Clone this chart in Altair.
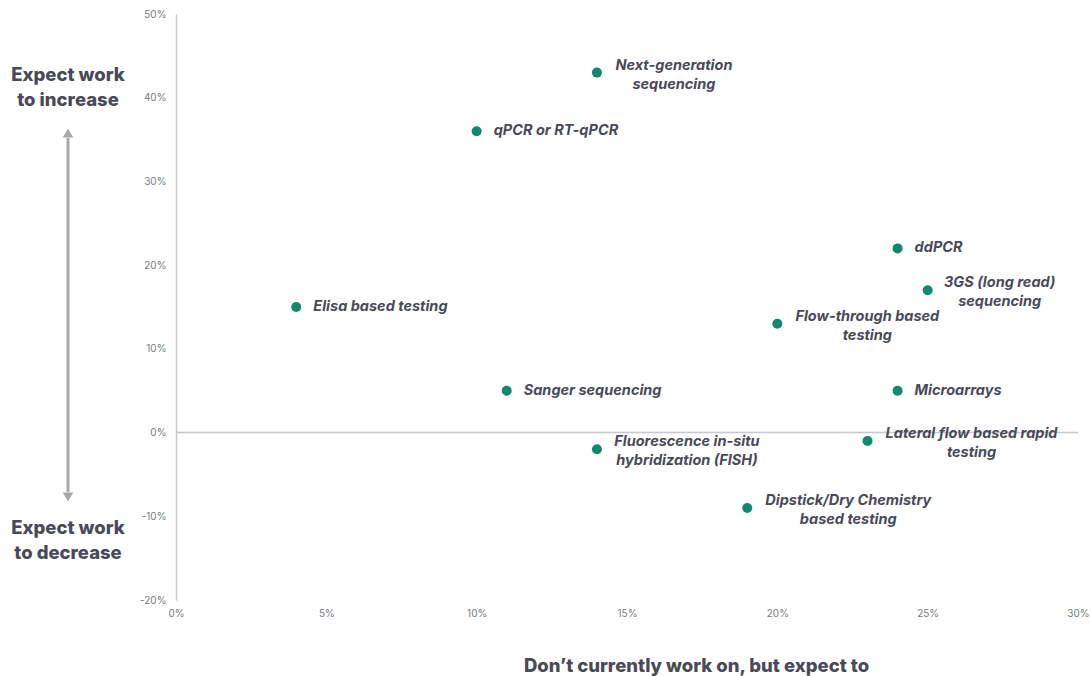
import altair as alt
import pandas as pd

# Survey results: share of respondents who don't work on a method yet but expect to (x)
# versus net expected change in work volume (y), both in percent.
methods = [
    "Next-generation\nsequencing",
    "qPCR or RT-qPCR",
    "ddPCR",
    "3GS (long read)\nsequencing",
    "Elisa based testing",
    "Flow-through based\ntesting",
    "Sanger sequencing",
    "Microarrays",
    "Fluorescence in-situ\nhybridization (FISH)",
    "Lateral flow based rapid\ntesting",
    "Dipstick/Dry Chemistry\nbased testing",
]
expect_to = [14, 10, 24, 25, 4, 20, 11, 24, 14, 23, 19]
work_change = [43, 36, 22, 17, 15, 13, 5, 5, -2, -1, -9]

x_ticks = [0, 5, 10, 15, 20, 25, 30]
y_ticks = [-20, -10, 0, 10, 20, 30, 40, 50]

df = pd.DataFrame({"method": methods, "x": expect_to, "y": work_change})

W, H = 902, 586
FONT = "Inter"
TEXT_COLOR = "#4a4a56"
DOT_COLOR = "#0f8a6c"
AXIS_GREY = "#c8c8cf"

xs = alt.Scale(domain=[0, 30], nice=False, zero=False)
ys = alt.Scale(domain=[-20, 50], nice=False, zero=False)

x_enc = alt.X(
    "x:Q",
    scale=xs,
    axis=alt.Axis(
        values=x_ticks,
        labelExpr="datum.value + '%'",
        labelFlush=False,
        domain=False,
        ticks=False,
        grid=False,
        labelFont=FONT,
        labelFontSize=10,
        labelColor="#7a7a82",
        labelPadding=8,
        title="Don\u2019t currently work on, but expect to",
        titleFont=FONT,
        titleFontSize=18.5,
        titleFontWeight=800,
        titleColor=TEXT_COLOR,
        titleX=520,
        titleAlign="center",
        titleAnchor="start",
        titlePadding=38,
    ),
)
y_enc = alt.Y(
    "y:Q",
    scale=ys,
    axis=alt.Axis(
        values=y_ticks,
        labelExpr="datum.value + '%'",
        domain=True,
        domainColor=AXIS_GREY,
        domainWidth=1.5,
        ticks=False,
        grid=False,
        labelFont=FONT,
        labelFontSize=10,
        labelColor="#7a7a82",
        labelPadding=10,
        title=None,
    ),
)

base = alt.Chart(df)

# horizontal zero line
zero = alt.Chart(pd.DataFrame({"y": [0]})).mark_rule(color=AXIS_GREY, strokeWidth=1.5).encode(
    y=alt.Y("y:Q", scale=ys), x=alt.value(0), x2=alt.value(W)
)

dots = base.mark_circle(size=100, opacity=1, color=DOT_COLOR).encode(x=x_enc, y=y_enc)

label_style = dict(
    font=FONT,
    fontSize=14.5,
    fontWeight=700,
    fontStyle="italic",
    color=TEXT_COLOR,
    baseline="middle",
    lineBreak="\n",
    lineHeight=19,
)

# single-line labels start just right of the dot; two-line labels are centred as a block
layers = [zero, dots]
single = [m for m in methods if "\n" not in m]
layers.append(
    base.transform_filter(alt.FieldOneOfPredicate(field="method", oneOf=single))
    .mark_text(align="left", dx=17, **label_style)
    .encode(x=alt.X("x:Q", scale=xs), y=alt.Y("y:Q", scale=ys), text="method:N")
)
block_center = {
    "Next-generation\nsequencing": 77,
    "3GS (long read)\nsequencing": 72,
    "Flow-through based\ntesting": 90,
    "Fluorescence in-situ\nhybridization (FISH)": 90,
    "Lateral flow based rapid\ntesting": 104,
    "Dipstick/Dry Chemistry\nbased testing": 101,
}
for name, dx in block_center.items():
    layers.append(
        base.transform_filter(alt.datum.method == name)
        .mark_text(align="center", dx=dx, dy=-7, **label_style)
        .encode(x=alt.X("x:Q", scale=xs), y=alt.Y("y:Q", scale=ys), text="method:N")
    )

# side annotations with a double-headed arrow
side = pd.DataFrame({"t": ["Expect work\nto increase", "Expect work\nto decrease"], "py": [61, 514]})
side_text = alt.Chart(side).mark_text(
    font=FONT, fontSize=18.5, fontWeight=800, color=TEXT_COLOR,
    align="center", baseline="middle", lineBreak="\n", lineHeight=25,
).encode(x=alt.value(-108), y=alt.Y("py:Q", scale=None), text="t:N")

arrow_line = alt.Chart(pd.DataFrame({"a": [0]})).mark_rule(color="#a8a8a8", strokeWidth=3).encode(
    x=alt.value(-108), y=alt.value(124), y2=alt.value(478)
)
heads = pd.DataFrame({"py": [119, 483], "shape": ["triangle-up", "triangle-down"]})
arrow_heads = alt.Chart(heads).mark_point(filled=True, color="#a8a8a8", opacity=1, size=110).encode(
    x=alt.value(-108),
    y=alt.Y("py:Q", scale=None),
    shape=alt.Shape("shape:N", scale=None),
)

layers += [side_text, arrow_line, arrow_heads]

chart = (
    alt.layer(*layers)
    .properties(
        width=W,
        height=H,
        padding={"left": 176, "top": 14, "right": 13, "bottom": 76},
        autosize=alt.AutoSizeParams(type="none"),
        background="white",
    )
    .configure_view(stroke=None)
)

chart.save("out.html", embed_options={"renderer": "svg", "actions": False})
